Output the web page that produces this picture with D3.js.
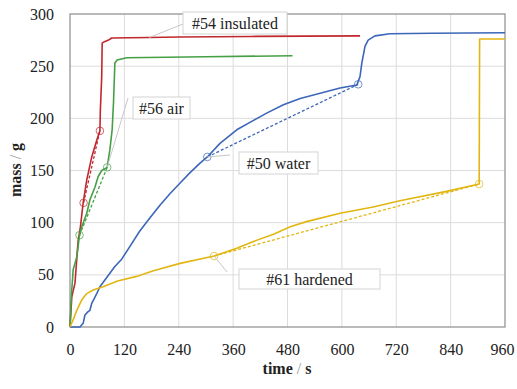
<!DOCTYPE html>
<html>
<head>
<meta charset="utf-8">
<script src="https://cdn.jsdelivr.net/npm/d3@7"></script>
<style>
  body { margin: 0; background: #fff; }
</style>
</head>
<body>
<div class="chart"></div>
<script>
// mass vs time, four specimens. values as [time s, mass g]
const xTicks = [0, 120, 240, 360, 480, 600, 720, 840, 960];
const yTicks = [0, 50, 100, 150, 200, 250, 300];

const insulated = [[0,0],[4,29],[11,42],[18,83],[23,96],[29,119],[37,141],[48,163],[59,179],[66,188],
  [67,208],[70,240],[71,272],[76,273.5],[85,275],[92,277],[175,277.5],[240,278],[400,278.5],[640,279]];
const air = [[0,0],[3,30],[7,55],[15,67],[21,88],[26,96],[37,109],[44,122],[55,134],[62,144],[70,150],
  [82,153],[88,170],[93,189],[96,215],[98,240],[99,253],[104,256],[125,258],[300,259],[491,260]];
const water = [[0,0],[22,0],[29,3.5],[33,11.5],[40,14.7],[44,16],[48,22.7],[59,32],[66,38.6],[77,45],
  [88,51.5],[99,58],[114,65],[132,77],[154,92],[177,105],[199,117],[221,128],[243,138],[265,148],
  [287,157],[303,163],[331,176],[368,189],[405,198],[434,205],[471,213],[508,219],[552,224],[596,229],
  [633,232],[640,240],[644,253],[651,269],[658,275],[673,279],[706,281],[800,281.5],[960,282]];
const hardened = [[0,0],[8,8],[15,16],[26,26],[37,32],[51,35.5],[73,38.6],[105,44],[147,48.5],[184,54],
  [243,61],[318,68],[368,75.4],[405,82],[449,89],[486,96],[522,101],[596,109],[669,115],[728,121],
  [831,130],[903,137],[904,276],[960,276]];

// circled points joined by the dashed lines
const insulatedMarks = [[30,119],[66,188]];
const airMarks = [[21,88],[82,153]];
const waterMarks = [[303,163],[636,232.6]];
const hardenedMarks = [[318,68],[903,137]];

const seriesNames = ["#54 insulated", "#56 air", "#50 water", "#61 hardened"];
const seriesColors = ["#c0282e", "#45a045", "#3c66b8", "#e2b612"];

const font = "'Liberation Serif', 'Times New Roman', serif";

const margin = { top: 14, right: 12, bottom: 62, left: 70 };
const width = 517 - margin.left - margin.right,
  height = 389 - margin.top - margin.bottom;

let svg = d3
  .select(".chart")
  .append("svg")
  .attr("width", 517)
  .attr("height", 389)
  .append("g")
  .attr("transform", `translate(${margin.left}, ${margin.top})`);

let x = d3.scaleLinear().domain([0, 960]).range([0, width]);
let y = d3.scaleLinear().domain([0, 300]).range([height, 0]);

// grid
svg.append("g")
  .selectAll("line.gx")
  .data(xTicks.slice(1, -1))
  .join("line")
  .attr("x1", (d) => x(d)).attr("x2", (d) => x(d))
  .attr("y1", 0).attr("y2", height)
  .attr("stroke", "#dcdcdc").attr("stroke-width", 1);
svg.append("g")
  .selectAll("line.gy")
  .data(yTicks.slice(1, -1))
  .join("line")
  .attr("x1", 0).attr("x2", width)
  .attr("y1", (d) => y(d)).attr("y2", (d) => y(d))
  .attr("stroke", "#dcdcdc").attr("stroke-width", 1);

svg.append("rect")
  .attr("width", width).attr("height", height)
  .attr("fill", "none").attr("stroke", "#8c8c8c").attr("stroke-width", 1.2);

// axes (labels only, ticks hidden)
let xAxis = svg.append("g")
  .attr("transform", `translate(0, ${height})`)
  .call(d3.axisBottom(x).tickValues(xTicks).tickSize(0).tickPadding(17));
let yAxis = svg.append("g")
  .call(d3.axisLeft(y).tickValues(yTicks).tickSize(0).tickPadding(16));
[xAxis, yAxis].forEach((a) => {
  a.attr("font-family", font).attr("font-size", 16);
  a.select(".domain").remove();
  a.selectAll("text").attr("fill", "#222");
});
// keep the last label inside the window
xAxis.selectAll("text").filter((d) => d === 960).attr("dx", "-3");

let line = d3.line().x((d) => x(d[0])).y((d) => y(d[1]));

const series = [insulated, air, water, hardened];
const marks = [insulatedMarks, airMarks, waterMarks, hardenedMarks];

// dashed interpolation
marks.forEach((m, i) => {
  svg.append("path")
    .attr("d", line(m))
    .attr("fill", "none")
    .attr("stroke", seriesColors[i])
    .attr("stroke-width", 1.3)
    .attr("stroke-dasharray", "3,2");
});

series.forEach((s, i) => {
  svg.append("path")
    .attr("d", line(s))
    .attr("fill", "none")
    .attr("stroke", seriesColors[i])
    .attr("stroke-width", 1.6)
    .attr("stroke-linejoin", "round");
});

marks.forEach((m, i) => {
  svg.selectAll(null)
    .data(m)
    .join("circle")
    .attr("cx", (d) => x(d[0]))
    .attr("cy", (d) => y(d[1]))
    .attr("r", 3.8)
    .attr("fill", "none")
    .attr("stroke", seriesColors[i])
    .attr("stroke-opacity", 0.7)
    .attr("stroke-width", 1);
});

// data labels: anchor point on the curve, box placement in px
const anchors = [[175, 277.5], airMarks[1], waterMarks[0], hardenedMarks[0]];
const boxes = [
  { x: 113, y: -2, w: 104, h: 22, lx: 113, ly: 10 },
  { x: 63, y: 83, w: 57, h: 22, lx: 58, ly: 84 },
  { x: 169, y: 138, w: 79, h: 22, lx: 160, ly: 141 },
  { x: 169, y: 255, w: 141, h: 20, lx: 157, ly: 258 }
];

boxes.forEach((b, i) => {
  svg.append("line")
    .attr("x1", x(anchors[i][0])).attr("y1", y(anchors[i][1]))
    .attr("x2", b.lx).attr("y2", b.ly)
    .attr("stroke", "#c8c8c8").attr("stroke-width", 1);
  svg.append("rect")
    .attr("x", b.x).attr("y", b.y).attr("width", b.w).attr("height", b.h)
    .attr("fill", "#fff").attr("stroke", "#d4d4d4").attr("stroke-width", 1);
  svg.append("text")
    .attr("x", b.x + b.w / 2).attr("y", b.y + b.h / 2)
    .attr("dy", "0.35em")
    .attr("text-anchor", "middle")
    .attr("font-family", font)
    .attr("font-size", 16)
    .attr("fill", "#222")
    .text(seriesNames[i]);
});

// axis titles
let xt = svg.append("text")
  .attr("x", 217).attr("y", height + 47)
  .attr("text-anchor", "middle")
  .attr("font-family", font)
  .attr("font-size", 16).attr("font-weight", "bold")
  .attr("fill", "#222");
xt.append("tspan").text("time ");
xt.append("tspan").attr("fill", "#999").attr("font-weight", "normal").text("/");
xt.append("tspan").text(" s");

let yt = svg.append("text")
  .attr("transform", "rotate(-90)")
  .attr("x", -156).attr("y", -49)
  .attr("text-anchor", "middle")
  .attr("font-family", font)
  .attr("font-size", 16).attr("font-weight", "bold")
  .attr("fill", "#222");
yt.append("tspan").text("mass ");
yt.append("tspan").attr("fill", "#999").attr("font-weight", "normal").text("/");
yt.append("tspan").text(" g");
</script>
</body>
</html>
